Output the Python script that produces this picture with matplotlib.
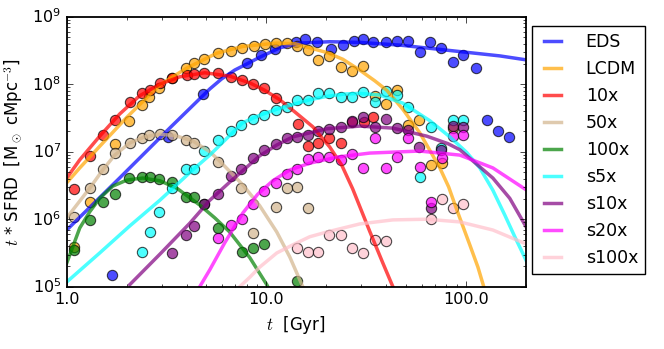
import matplotlib
matplotlib.use('Agg')
import matplotlib.pyplot as plt
import numpy as np
from matplotlib.ticker import FormatStrFormatter

plt.style.use('classic')

# values; t in Gyr, *_lg = log10(t * SFRD)
# simulation points
eds_t = [1.68, 3.21, 4.81, 7.98, 9.44, 11.0, 14.06, 15.69, 18.01, 21.05, 24.18, 27.45, 30.46,
         34.4, 39.7, 45.0, 51.3, 58.8, 66.4, 75.5, 85.8, 97.0, 112, 127, 145, 165]
eds_lg = [5.17, 7.22, 7.86, 8.31, 8.43, 8.52, 8.63, 8.67, 8.62, 8.52, 8.58, 8.64, 8.67,
          8.62, 8.62, 8.64, 8.64, 8.48, 8.62, 8.54, 8.33, 8.44, 8.24, 7.47, 7.31, 7.22]
lcdm_t = [1.088, 1.304, 1.74, 2.06, 2.376, 2.59, 2.91, 3.35, 3.98, 4.33, 4.86, 5.72, 6.64, 7.54,
          8.65, 9.83, 11.16, 12.67, 14.30, 16.20, 18.18, 20.6, 23.6, 27.0, 30.6, 35.0, 39.7,
          45.2, 51.4, 58.2, 66.8, 75.8, 86.3]
lcdm_lg = [5.59, 6.25, 7.11, 7.46, 7.69, 7.81, 7.95, 8.09, 8.24, 8.31, 8.37, 8.46, 8.49, 8.54,
           8.57, 8.60, 8.61, 8.61, 8.56, 8.51, 8.36, 8.42, 8.26, 8.19, 8.27, 7.83, 7.70,
           7.91, 7.40, 7.47, 6.80, 6.84, 7.35]
x10_t = [1.088, 1.304, 1.515, 1.74, 2.069, 2.376, 2.607, 2.926, 3.36, 3.996, 4.33, 4.86, 5.71,
         6.64, 7.54, 8.56, 9.71, 11.16, 14.4, 16.1, 18.1, 20.6, 23.6, 26.8, 30.8, 34.2]
x10_lg = [6.45, 6.94, 7.25, 7.47, 7.73, 7.87, 7.92, 8.02, 8.09, 8.14, 8.15, 8.17, 8.16,
          8.11, 8.06, 8.00, 7.94, 7.79, 7.41, 7.08, 7.13, 7.21, 7.13, 7.44, 7.44, 7.51]
x50_t = [1.088, 1.304, 1.52, 1.74, 2.069, 2.376, 2.59, 2.926, 3.35, 3.98, 4.33, 5.73, 7.51,
         8.59, 11.16, 12.74, 14.30, 16.20]
x50_lg = [6.04, 6.46, 6.74, 6.98, 7.13, 7.21, 7.25, 7.26, 7.25, 7.18, 7.13, 6.85, 6.46,
          5.80, 6.18, 6.46, 6.47, 6.16]
x100_t = [1.088, 1.304, 1.515, 1.74, 2.06, 2.37, 2.6, 2.91, 3.35, 3.98, 4.33, 4.86, 5.73,
          7.54, 8.59, 9.77, 14.30]
x100_lg = [5.55, 5.99, 6.25, 6.38, 6.61, 6.63, 6.63, 6.59, 6.55, 6.33, 6.33, 6.22, 5.87,
           5.52, 5.58, 5.63, 5.08]
s5_t = [2.37, 2.6, 2.91, 3.35, 3.98, 4.33, 4.86, 5.73, 6.62, 7.51, 8.59, 9.77, 11.16, 12.67,
        14.30, 16.20, 18.18, 20.6, 23.6, 27.0, 30.6, 35.0, 39.7, 45.2, 51.4, 58.8, 66.8,
        75.5, 86.3, 96.6]
s5_lg = [5.52, 5.81, 6.11, 6.46, 6.74, 6.75, 7.01, 7.17, 7.31, 7.40, 7.48, 7.55, 7.62, 7.66,
         7.77, 7.77, 7.87, 7.87, 7.81, 7.81, 7.89, 7.73, 7.90, 7.84, 7.67, 6.63, 7.37,
         7.05, 7.47, 7.47]
s10_t = [3.35, 3.98, 4.33, 4.86, 5.73, 6.64, 7.51, 8.59, 9.77, 11.16, 12.67, 14.30, 16.20,
         18.18, 20.6, 23.6, 27.0, 30.6, 35.0, 39.7, 45.2, 51.4, 58.5, 66.8, 75.5, 86.3, 96.6]
s10_lg = [5.50, 5.77, 5.90, 6.23, 6.37, 6.64, 6.75, 6.90, 7.03, 7.11, 7.20, 7.22, 7.25,
          7.30, 7.34, 7.36, 7.45, 7.52, 7.36, 7.48, 7.35, 7.32, 7.07, 6.16, 7.03, 7.38, 7.37]
s20_t = [5.73, 6.64, 7.54, 8.59, 9.77, 11.16, 12.74, 14.30, 16.20, 18.18, 20.6, 23.6, 27.0,
         30.6, 35.0, 39.7, 45.2, 51.4, 58.8, 66.8, 75.8, 86.3, 96.6]
s20_lg = [5.72, 5.91, 6.01, 6.23, 6.42, 6.54, 6.67, 6.74, 6.89, 6.92, 6.92, 6.88, 6.96,
          6.76, 7.20, 6.76, 6.92, 7.20, 6.77, 6.26, 6.91, 7.23, 7.25]
s100_t = [14.30, 16.20, 18.18, 20.6, 23.6, 27.0, 30.6, 35.0, 39.7, 66.8, 75.8, 86.3, 96.6]
s100_lg = [5.58, 5.51, 5.52, 5.76, 5.76, 5.58, 5.50, 5.69, 5.68, 6.01, 6.30, 6.16, 6.22]

# fitted curves
eds_ct = [1.0, 1.84, 3.28, 5.21, 5.98, 6.95, 7.98, 9.27, 11.69, 14.72, 20.8, 29.4, 46.7, 83.2, 148, 202]
eds_clg = [5.84, 6.61, 7.35, 7.93, 8.08, 8.21, 8.30, 8.40, 8.54, 8.61, 8.63, 8.62, 8.58, 8.50, 8.42, 8.36]
lcdm_ct = [1.0, 1.162, 1.463, 2.0, 2.926, 3.996, 5.65, 7.62, 11.29, 13.9, 20.1, 24.18, 29.4, 35.0,
           40.2, 48.3, 58.8, 66.0, 74.1, 82.0, 90.1, 104.7, 115, 123, 128]
lcdm_clg = [6.54, 6.76, 7.08, 7.51, 7.99, 8.24, 8.46, 8.56, 8.61, 8.60, 8.47, 8.37, 8.21, 8.05,
            7.91, 7.63, 7.28, 7.02, 6.76, 6.48, 6.14, 5.62, 5.29, 5.00, 4.80]
x10_ct = [1.0, 1.162, 1.463, 1.844, 2.321, 2.926, 3.685, 4.92, 6.56, 8.27, 9.83, 11.69, 13.9,
          17.1, 20.8, 23.9, 27.1, 33.0, 38.4, 43.1, 46.7]
x10_clg = [6.61, 6.88, 7.23, 7.56, 7.83, 8.00, 8.11, 8.17, 8.12, 8.02, 7.91, 7.77, 7.59,
           7.37, 7.07, 6.80, 6.45, 5.82, 5.35, 5.00, 4.73]
x50_ct = [1.0, 1.304, 1.515, 1.74, 2.069, 2.46, 2.926, 3.48, 4.28, 5.21, 5.85, 7.62, 9.27,
          11.29, 13.12, 15.24, 16.5]
x50_clg = [6.02, 6.46, 6.73, 6.95, 7.13, 7.22, 7.26, 7.24, 7.16, 7.00, 6.86, 6.51, 6.20,
           5.81, 5.44, 5.00, 4.80]
x100_ct = [1.0, 1.162, 1.304, 1.463, 1.701, 2.0, 2.404, 2.926, 3.56, 4.64, 5.52, 6.56, 8.27, 10.06, 10.66]
x100_clg = [5.35, 5.87, 6.11, 6.31, 6.49, 6.58, 6.61, 6.57, 6.46, 6.21, 6.02, 5.81, 5.43, 5.03, 4.88]
s5_ct = [1.0, 1.463, 2.069, 2.926, 4.28, 5.21, 7.62, 9.27, 11.29, 13.58, 16.5, 20.1, 24.7, 29.4,
         37.1, 48.3, 66.0, 83.2, 101, 117.5, 136.6, 156.9, 176, 202]
s5_clg = [5.07, 5.50, 5.90, 6.28, 6.73, 6.95, 7.43, 7.54, 7.63, 7.70, 7.77, 7.82, 7.855, 7.865,
          7.84, 7.72, 7.46, 7.22, 6.99, 6.76, 6.43, 6.06, 5.74, 5.37]
s10_ct = [2.069, 2.926, 4.135, 5.21, 6.56, 9.27, 11.29, 13.58, 20.1, 29.4, 43.1, 63.8, 81.3,
          93.3, 136.6, 166, 202]
s10_clg = [5.03, 5.48, 5.94, 6.28, 6.55, 6.94, 7.10, 7.22, 7.34, 7.38, 7.35, 7.23, 7.12,
           7.03, 6.61, 6.31, 5.87]
s20_ct = [4.38, 4.64, 5.21, 6.19, 7.62, 9.06, 10.78, 13.12, 16.5, 22.6, 33.0, 58.8, 93.3, 136.6, 202]
s20_clg = [4.86, 5.00, 5.25, 5.65, 6.09, 6.37, 6.57, 6.73, 6.83, 6.92, 6.98, 7.01, 6.95, 6.76, 6.43]
s100_ct = [6.56, 7.36, 8.27, 9.27, 11.29, 13.58, 16.5, 20.1, 29.4, 43.1, 63.8, 93.3, 136.6, 202]
s100_clg = [4.85, 5.00, 5.14, 5.29, 5.50, 5.62, 5.74, 5.81, 5.93, 5.99, 6.00, 5.96, 5.84, 5.63]

labels = ['EDS', 'LCDM', '10x', '50x', '100x', 's5x', 's10x', 's20x', 's100x']
colors = ['blue', 'orange', 'red', 'tan', 'green', 'cyan', 'purple', 'magenta', 'pink']
dots = [(eds_t, eds_lg), (lcdm_t, lcdm_lg), (x10_t, x10_lg), (x50_t, x50_lg), (x100_t, x100_lg),
        (s5_t, s5_lg), (s10_t, s10_lg), (s20_t, s20_lg), (s100_t, s100_lg)]
curves = [(eds_ct, eds_clg), (lcdm_ct, lcdm_clg), (x10_ct, x10_clg), (x50_ct, x50_clg),
          (x100_ct, x100_clg), (s5_ct, s5_clg), (s10_ct, s10_clg), (s20_ct, s20_clg),
          (s100_ct, s100_clg)]

fig, ax = plt.subplots(figsize=(6.64, 3.49), dpi=100)
fig.patch.set_facecolor('white')

for lab, col, (dt, dl), (ct, cl) in zip(labels, colors, dots, curves):
    ax.scatter(dt, 10**np.array(dl), s=55, c=col, alpha=0.7, edgecolors='k', linewidths=0.8)
    ax.plot(ct, 10**np.array(cl), color=col, lw=2.5, alpha=0.7, label=lab)

ax.set_xscale('log')
ax.set_yscale('log')
ax.set_xlim(1, 200)
ax.set_ylim(1e5, 1e9)
ax.xaxis.set_major_formatter(FormatStrFormatter('%.1f'))
ax.tick_params(labelsize=11.5)
for sp in ax.spines.values():
    sp.set_linewidth(1.3)

ax.set_xlabel(r'$t$  [Gyr]', fontsize=12)
ax.set_ylabel(r'$t$ * SFRD  [M$_\odot$ cMpc$^{-3}$]', fontsize=12)

leg = ax.legend(loc='upper left', bbox_to_anchor=(1.013, 0.966), borderaxespad=0,
                fontsize=12.5, labelspacing=0.52, handlelength=1.6, handletextpad=1.1)
leg.get_frame().set_linewidth(1.0)

fig.subplots_adjust(left=0.1005, right=0.792, bottom=0.1785, top=0.952)
fig.savefig('out.png', dpi=100, facecolor='white')
